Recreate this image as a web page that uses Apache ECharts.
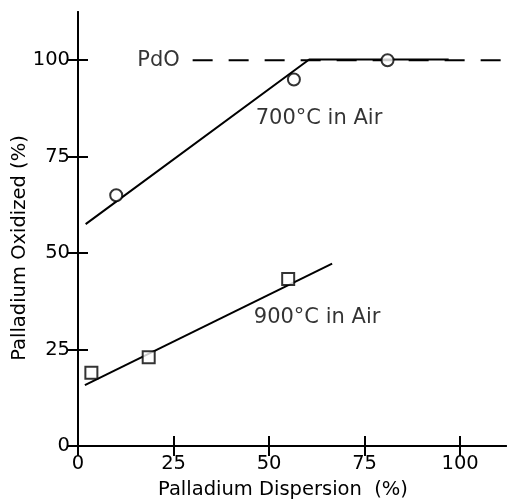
<!DOCTYPE html>
<html><head><meta charset="utf-8">
<script src="https://cdn.jsdelivr.net/npm/echarts@6/dist/echarts.min.js"></script>
<style>html,body{margin:0;padding:0;background:#fff}#c{width:510px;height:500px}</style>
</head><body><div id="c"></div>
<script>
// Tick values
const xTicks = [0, 25, 50, 75, 100];
const yTicks = [0, 25, 50, 75, 100];
// 700°C in Air: measured points and fitted line
const pts700 = [[10, 65], [56.5, 95], [81, 100]];
const fit700 = [[2, 57.5], [60.5, 100.2], [97, 100.2]];
// 900°C in Air: measured points and fitted line
const pts900 = [[3.5, 19], [18.5, 23], [55, 43.3]];
const fit900 = [[1.8, 15.8], [66.5, 47.3]];
// PdO reference level
const pdoLine = [[30, 100], [112, 100]];
// annotations
const annoText = ['PdO', '700°C in Air', '900°C in Air'];
const annoPos = [[15.5, 100], [46.5, 85], [46, 33.3]];

const FONT = 'DejaVu Sans';
const chart = echarts.init(document.getElementById('c'));
const common = {
  axisLine: {show: true, lineStyle: {color: '#000', width: 2}},
  axisTick: {show: true, inside: true, length: 10, lineStyle: {color: '#000', width: 2}},
  splitLine: {show: false},
};
chart.setOption({
  animation: false,
  backgroundColor: '#fff',
  grid: {left: 78, right: 4, top: 12, bottom: 54, containLabel: false},
  xAxis: [
    Object.assign({type: 'value', position: 'bottom', min: 0, max: 112,
      axisLabel: {show: true, customValues: xTicks, margin: 8, color: '#000', fontFamily: FONT, fontSize: 19.5},
    }, common, {axisTick: Object.assign({}, common.axisTick, {customValues: xTicks})}),
    Object.assign({type: 'value', position: 'top', min: 0, max: 112, axisLabel: {show: false}},
      common, {axisTick: Object.assign({}, common.axisTick, {customValues: xTicks})})
  ],
  yAxis: [
    Object.assign({type: 'value', position: 'left', min: 0, max: 112.5,
      axisLabel: {show: true, customValues: yTicks, margin: 8, color: '#000', fontFamily: FONT, fontSize: 19.5},
    }, common, {axisTick: Object.assign({}, common.axisTick, {customValues: yTicks})}),
    Object.assign({type: 'value', position: 'right', min: 0, max: 112.5, axisLabel: {show: false}},
      common, {axisTick: Object.assign({}, common.axisTick, {customValues: yTicks})})
  ],
  graphic: [
    {type: 'text', x: 283, y: 490,
      style: {text: 'Palladium Dispersion  (%)', fontFamily: FONT, fontSize: 19.5, fill: '#000', align: 'center', verticalAlign: 'middle'}},
    {type: 'text', x: 20, y: 248, rotation: Math.PI / 2,
      style: {text: 'Palladium Oxidized (%)', fontFamily: FONT, fontSize: 19.5, fill: '#000', align: 'center', verticalAlign: 'middle'}}
  ],
  series: [
    {type: 'line', data: pdoLine, symbol: 'none', lineStyle: {color: '#000', width: 2, type: [20, 16]}},
    {type: 'line', data: fit700, symbol: 'none', lineStyle: {color: '#000', width: 2}},
    {type: 'line', data: fit900, symbol: 'none', lineStyle: {color: '#000', width: 2}},
    {type: 'scatter', data: pts700, symbol: 'circle', symbolSize: 12, z: 5,
      itemStyle: {color: '#fff', borderColor: '#000', borderWidth: 2}},
    {type: 'scatter', data: pts900, symbol: 'rect', symbolSize: 12, z: 5,
      itemStyle: {color: '#fff', borderColor: '#000', borderWidth: 2}},
    {type: 'scatter', symbolSize: 0, z: 6,
      data: annoPos.map((p, i) => ({value: p, name: annoText[i]})),
      label: {show: true, position: 'right', distance: 0, formatter: p => p.name,
        color: '#000', fontFamily: FONT, fontSize: 21}}
  ]
});
</script></body></html>
